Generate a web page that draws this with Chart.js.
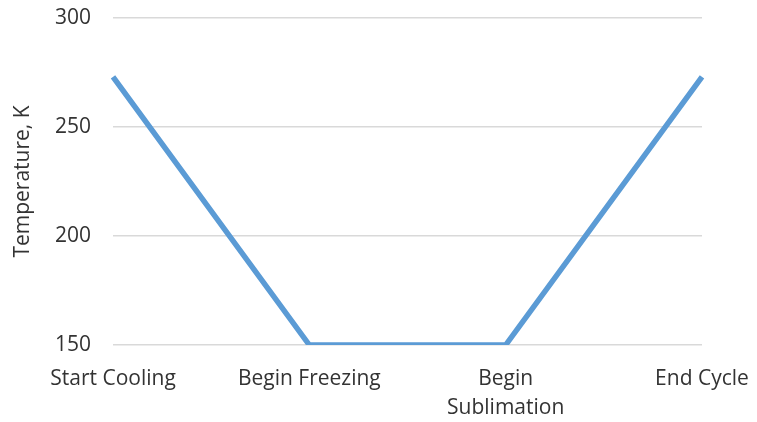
<!DOCTYPE html>
<html>
<head>
<meta charset="utf-8">
<script src="https://cdn.jsdelivr.net/npm/chart.js@4/dist/chart.umd.min.js"></script>
<style>
  html, body { margin: 0; padding: 0; background: #fff; }
  #wrap { width: 757px; height: 422px; }
</style>
</head>
<body>
<div id="wrap"><canvas id="chart"></canvas></div>
<script>
const stages = [['Start Cooling'], ['Begin Freezing'], ['Begin', 'Sublimation'], ['End Cycle']];
const temps = [273, 150, 150, 273];
const yTicks = [150, 200, 250, 300];

const font = "'Open Sans', 'Liberation Sans', sans-serif";
const txt = '#333333';

const ctx = document.getElementById('chart').getContext('2d');
const chart = new Chart(ctx, {
  type: 'line',
  data: {
    labels: stages,
    datasets: [{
      data: temps,
      borderColor: '#5b9bd5',
      borderWidth: 5.5,
      pointRadius: 0,
      tension: 0,
      fill: false
    }]
  },
  options: {
    responsive: true,
    maintainAspectRatio: false,
    animation: false,
    layout: { padding: { top: 18, right: 55, bottom: 0, left: 0 } },
    plugins: {
      legend: { display: false },
      tooltip: { enabled: false }
    },
    scales: {
      x: {
        offset: false,
        grid: { display: false, drawTicks: false },
        border: { display: false },
        ticks: {
          color: txt,
          font: { family: font, size: 21, lineHeight: 1.4 },
          maxRotation: 0,
          autoSkip: false,
          padding: 19
        },
        afterFit: s => {
          s.height = 77;
          s.paddingLeft = 0;
          s.paddingRight = 0;
        }
      },
      y: {
        min: 150,
        max: 300,
        afterBuildTicks: s => { s.ticks = yTicks.map(v => ({ value: v })); },
        grid: { color: '#d9d9d9', lineWidth: 1.5, drawTicks: false },
        border: { display: false },
        ticks: {
          color: txt,
          font: { family: font, size: 21 },
          padding: 22
        },
        title: {
          display: true,
          text: 'Temperature, K',
          color: txt,
          font: { family: font, size: 21 },
          padding: { top: 10, bottom: 4 }
        },
        afterFit: s => {
          s.width = 113;
          s.paddingTop = 0;
          s.paddingBottom = 0;
        }
      }
    }
  }
});
</script>
</body>
</html>
